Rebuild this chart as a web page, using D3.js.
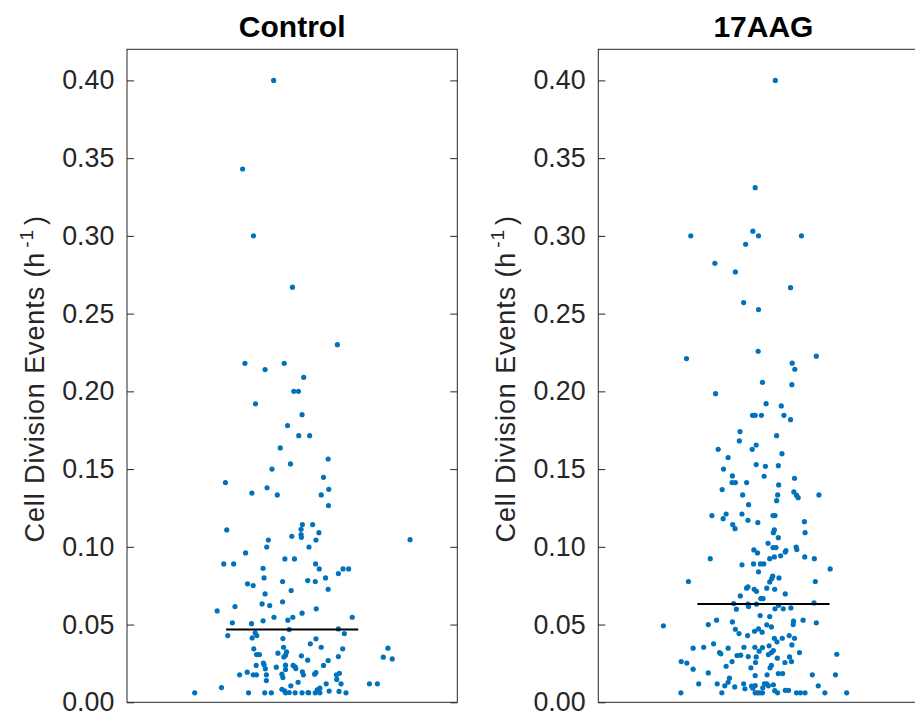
<!DOCTYPE html>
<html>
<head>
<meta charset="utf-8">
<script src="https://cdn.jsdelivr.net/npm/d3@7"></script>
<style>
  body { margin: 0; background: #fff; }
  svg { display: block; font-family: "Liberation Sans", Arial, sans-serif; }
</style>
</head>
<body>
<div id="svg_wrapper"></div>
<script>
const groups = ['Control', '17AAG'];
const medians = [0.0469, 0.0633];
const yTicks = [0, 0.05, 0.10, 0.15, 0.20, 0.25, 0.30, 0.35, 0.40];

const controlY = [
    0.400, 0.343, 0.300, 0.267, 0.230, 0.218, 0.218, 0.214, 0.209, 0.200,
    0.200, 0.192, 0.185, 0.178, 0.1715, 0.1715, 0.1636, 0.1565, 0.150, 0.1533,
    0.1447, 0.1413, 0.138, 0.137, 0.1346, 0.1334, 0.1334, 0.1265, 0.1143, 0.1143,
    0.1113, 0.1109, 0.1091, 0.1079, 0.1068, 0.1061, 0.1046, 0.1044, 0.1044, 0.0999,
    0.0999, 0.0961, 0.0922, 0.0922, 0.089, 0.089, 0.089, 0.0862, 0.0858, 0.0858,
    0.0858, 0.0828, 0.080, 0.080, 0.0777, 0.0783, 0.0777, 0.0762, 0.0751, 0.0727,
    0.0719, 0.0697, 0.0646, 0.0633, 0.0622, 0.0616, 0.0601, 0.0588, 0.0573, 0.0547,
    0.0547, 0.0528, 0.0547, 0.0524, 0.0511, 0.0506, 0.0472, 0.0468, 0.0447, 0.0442,
    0.0429, 0.0429, 0.0414, 0.041, 0.0408, 0.0376, 0.0354, 0.0354, 0.0344, 0.0344,
    0.0348, 0.0324, 0.0316, 0.0307, 0.0307, 0.0299, 0.0303, 0.0292, 0.0294, 0.029,
    0.0279, 0.0271, 0.0269, 0.0252, 0.0241, 0.0237, 0.0239, 0.0237, 0.0237, 0.0226,
    0.0228, 0.0215, 0.0211, 0.0217, 0.0194, 0.0196, 0.0191, 0.0187, 0.0177, 0.0177,
    0.0177, 0.0177, 0.0181, 0.0177, 0.0181, 0.0177, 0.0159, 0.0147, 0.014, 0.0129,
    0.0119, 0.0119, 0.0119, 0.0119, 0.0095, 0.0106, 0.0084, 0.0091, 0.008, 0.0074,
    0.0072, 0.007, 0.0061, 0.0061, 0.0061, 0.0061, 0.0061, 0.0063, 0.0061, 0.0061,
    0.0063, 0.0061, 0.0061, 0.0061, 0.0061
];
const controlJitter = [
    -0.056, -0.150, -0.117, 0.001, 0.137, -0.143, -0.024, -0.082, 0.035, 0.005,
    0.019, -0.111, 0.030, -0.014, 0.020, 0.053, -0.036, 0.109, -0.061, -0.005,
    0.095, -0.202, -0.076, 0.111, -0.122, -0.045, 0.088, 0.110, 0.031, 0.062,
    0.027, -0.198, 0.081, 0.027, -0.001, 0.028, 0.357, -0.072, 0.072, -0.077,
    0.051, -0.141, -0.022, 0.007, -0.207, -0.177, 0.071, -0.088, 0.082, 0.154,
    0.171, 0.140, -0.085, 0.101, -0.029, 0.047, 0.070, -0.135, -0.118, 0.109,
    -0.003, -0.082, -0.029, -0.091, -0.068, -0.173, 0.073, -0.227, 0.030, -0.055,
    0.002, -0.013, 0.182, -0.088, -0.181, -0.123, 0.140, -0.009, -0.112, 0.158,
    -0.195, -0.107, -0.121, -0.028, 0.072, 0.055, -0.026, 0.088, -0.116, 0.153,
    0.290, -0.017, -0.043, -0.108, -0.099, 0.028, -0.020, -0.025, 0.140, 0.276,
    0.303, 0.047, 0.109, -0.087, -0.085, -0.109, -0.020, 0.003, 0.095, -0.048,
    0.009, -0.081, -0.020, 0.011, -0.136, 0.031, 0.072, 0.143, -0.159, -0.118,
    -0.108, -0.078, -0.031, 0.034, 0.068, 0.134, -0.028, 0.135, -0.078, 0.018,
    0.103, 0.148, 0.234, 0.258, -0.214, -0.004, -0.031, 0.084, 0.076, -0.023,
    0.112, 0.142, -0.295, -0.132, -0.083, -0.063, -0.020, -0.009, 0.009, 0.030,
    0.048, 0.050, 0.070, 0.084, 0.163
];

const aagY = [
    0.400, 0.331, 0.300, 0.303, 0.300, 0.300, 0.2946, 0.2824, 0.2768, 0.2667,
    0.2571, 0.2526, 0.2258, 0.2211, 0.2226, 0.2181, 0.2142, 0.2058, 0.2043, 0.1985,
    0.1921, 0.1906, 0.1846, 0.1846, 0.1846, 0.1846, 0.1818, 0.1741, 0.1681, 0.1715,
    0.1655, 0.1627, 0.1627, 0.1599, 0.1574, 0.1529, 0.1518, 0.1522, 0.150, 0.1456,
    0.1454, 0.1441, 0.1413, 0.1413, 0.1413, 0.1398, 0.1368, 0.1353, 0.1334, 0.1334,
    0.1332, 0.1316, 0.1334, 0.1297, 0.1271, 0.1201, 0.1211, 0.1181, 0.1211, 0.1201,
    0.1201, 0.1171, 0.1156, 0.1162, 0.1143, 0.1117, 0.1109, 0.1091, 0.1091, 0.1059,
    0.1023, 0.0995, 0.0995, 0.0999, 0.0982, 0.098, 0.0961, 0.0976, 0.0966, 0.0942,
    0.0935, 0.0924, 0.0924, 0.0935, 0.0924, 0.089, 0.089, 0.089, 0.0884, 0.0858,
    0.0839, 0.0811, 0.0796, 0.080, 0.0774, 0.0777, 0.0777, 0.0742, 0.0734, 0.0734,
    0.0727, 0.0714, 0.0727, 0.0697, 0.0684, 0.0667, 0.0667, 0.0635, 0.0631, 0.0631,
    0.0639, 0.0616, 0.0624, 0.0599, 0.0601, 0.0601, 0.0607, 0.0558, 0.0552, 0.0528,
    0.0522, 0.0528, 0.0517, 0.050, 0.0511, 0.050, 0.0492, 0.0498, 0.0485, 0.047,
    0.0472, 0.0457, 0.0451, 0.0442, 0.0429, 0.0429, 0.0412, 0.0412, 0.0412, 0.0389,
    0.0369, 0.0376, 0.0348, 0.0354, 0.0348, 0.0354, 0.0354, 0.0352, 0.0363, 0.0329,
    0.0333, 0.032, 0.032, 0.032, 0.0312, 0.0309, 0.0301, 0.0303, 0.0307, 0.0294,
    0.0292, 0.0292, 0.0284, 0.0262, 0.0252, 0.0262, 0.0256, 0.0256, 0.0262, 0.0232,
    0.0237, 0.0222, 0.0222, 0.0213, 0.0189, 0.0185, 0.0185, 0.0172, 0.0177, 0.0177,
    0.0177, 0.0155, 0.0129, 0.0106, 0.0119, 0.0119, 0.0119, 0.0108, 0.0104, 0.0119,
    0.0119, 0.0113, 0.0099, 0.0106, 0.0087, 0.0091, 0.0093, 0.0106, 0.0075, 0.0077,
    0.0077, 0.0061, 0.0061, 0.0061, 0.0061, 0.0061, 0.0061, 0.0061, 0.0061, 0.0061,
    0.0061, 0.0061, 0.0061
];
const aagJitter = [
    0.036, -0.025, -0.220, -0.032, -0.015, 0.115, -0.054, -0.147, -0.085, 0.082,
    -0.060, -0.015, -0.016, -0.233, 0.160, 0.087, 0.095, -0.003, 0.086, -0.145,
    0.008, 0.054, -0.033, -0.025, -0.006, 0.062, 0.082, -0.071, -0.073, 0.040,
    -0.022, -0.034, -0.137, 0.056, -0.107, -0.022, 0.006, 0.045, -0.121, -0.094,
    0.002, 0.094, -0.095, -0.085, -0.051, 0.046, -0.125, 0.092, -0.063, 0.043,
    0.100, 0.105, 0.168, 0.040, -0.045, -0.156, -0.113, -0.122, -0.065, 0.029,
    0.035, -0.047, -0.017, 0.124, -0.093, -0.086, 0.033, 0.030, 0.126, 0.045,
    0.014, 0.029, 0.038, 0.099, 0.101, -0.029, -0.018, 0.068, 0.066, 0.052,
    0.033, 0.019, -0.161, 0.125, 0.154, -0.030, -0.009, 0.001, -0.065, 0.202,
    -0.015, 0.028, 0.025, 0.047, 0.019, -0.227, 0.157, -0.047, -0.051, 0.010,
    -0.028, -0.021, 0.034, 0.066, -0.070, -0.008, -0.001, -0.090, -0.047, -0.021,
    0.153, -0.045, 0.046, -0.082, 0.035, 0.060, 0.083, -0.010, 0.019, -0.142,
    0.091, 0.120, -0.094, 0.090, 0.160, -0.167, -0.303, 0.010, 0.024, -0.085,
    -0.015, -0.027, -0.004, -0.074, -0.048, 0.078, 0.033, 0.057, 0.094, 0.041,
    0.086, -0.151, -0.213, -0.181, -0.107, -0.059, -0.026, -0.003, 0.017, -0.013,
    0.030, 0.024, 0.109, -0.133, -0.129, 0.222, -0.080, -0.069, 0.015, -0.046,
    -0.022, 0.079, 0.042, -0.249, -0.232, -0.095, -0.024, 0.065, 0.085, -0.113,
    0.024, 0.020, -0.038, -0.213, -0.167, 0.045, 0.058, -0.025, 0.011, 0.148,
    0.218, -0.103, -0.107, -0.117, -0.196, -0.140, -0.060, -0.025, -0.036, 0.003,
    0.010, 0.030, -0.087, 0.166, -0.056, -0.032, -0.002, 0.015, 0.034, 0.066,
    0.076, -0.250, -0.126, -0.025, -0.018, -0.011, -0.003, 0.043, 0.100, 0.112,
    0.126, 0.186, 0.252
];

const seriesY = [controlY, aagY];
const seriesJitter = [controlJitter, aagJitter];

const width = 915, height = 717;
const plotTop = 49.3, plotBottom = 702.3;
const panelW = 330.3;
const panelX = [127, 598.3];
const axisColor = '#262626';
const dotColor = '#0072bd';

const svg = d3.select('#svg_wrapper')
.append('svg')
.attr('width', width)
.attr('height', height)
.attr('viewBox', `0 0 ${width} ${height}`);

const y = d3.scaleLinear()
.domain([0, 0.42])
.range([plotBottom, plotTop]);

for(let i = 0; i < groups.length; i++) {
    drawPanel(i);
}

function drawPanel( i ) {
    const x0 = panelX[i];
    const x = d3.scaleLinear()
    .domain([0.5, 1.5])
    .range([x0, x0 + panelW]);

    const g = svg.append('g');

    // box
    g
    .append('rect')
    .attr('x', x0)
    .attr('y', plotTop)
    .attr('width', panelW)
    .attr('height', plotBottom - plotTop)
    .attr('fill', 'none')
    .attr('stroke', axisColor)
    .attr('stroke-width', 1);

    // left axis, ticks inward
    const left = g.append('g')
    .attr('transform', `translate(${x0},0)`)
    .call(d3.axisLeft(y)
        .tickValues(yTicks)
        .tickSizeInner(-7)
        .tickSizeOuter(0)
        .tickPadding(12.7)
        .tickFormat(d3.format('.2f')));

    left.select('.domain').remove();
    left.selectAll('.tick line').attr('stroke', axisColor);
    left.selectAll('.tick text')
    .attr('fill', axisColor)
    .attr('font-size', 26.8)
    .attr('font-family', '"Liberation Sans", Arial, sans-serif');

    // right axis, ticks only
    const right = g.append('g')
    .attr('transform', `translate(${x0 + panelW},0)`)
    .call(d3.axisRight(y)
        .tickValues(yTicks)
        .tickSizeInner(-7)
        .tickSizeOuter(0)
        .tickFormat(''));

    right.select('.domain').remove();
    right.selectAll('.tick line').attr('stroke', axisColor);

    // points
    const pts = seriesY[i].map((v, k) => ({ v: v, j: seriesJitter[i][k] }));

    g
    .selectAll('circle')
    .data( pts )
    .enter()
    .append('circle')
    .attr('cx', d => x(1 + d.j))
    .attr('cy', d => y(d.v))
    .attr('r', 2.6)
    .attr('fill', dotColor);

    // median
    g
    .append('line')
    .attr('x1', x(0.8))
    .attr('x2', x(1.2))
    .attr('y1', y(medians[i]))
    .attr('y2', y(medians[i]))
    .attr('stroke', '#000')
    .attr('stroke-width', 2);

    // title
    g
    .append('text')
    .attr('x', x(1))
    .attr('y', 36.7)
    .attr('text-anchor', 'middle')
    .attr('font-size', 30)
    .attr('font-weight', 'bold')
    .attr('fill', '#000')
    .text(groups[i]);

    // y label
    const label = g
    .append('text')
    .attr('transform', `translate(${x0 - 83.5},${(plotTop + plotBottom) / 2 + 3}) rotate(-90)`)
    .attr('text-anchor', 'middle')
    .attr('font-size', 27)
    .attr('letter-spacing', 0.9)
    .attr('fill', axisColor);

    label.append('tspan').text('Cell Division Events (h');
    label.append('tspan').attr('font-size', 19).attr('dx', 4).attr('dy', -11).text('-1');
    label.append('tspan').attr('dx', 4).attr('dy', 11).text(')');
}
</script>
</body>
</html>
